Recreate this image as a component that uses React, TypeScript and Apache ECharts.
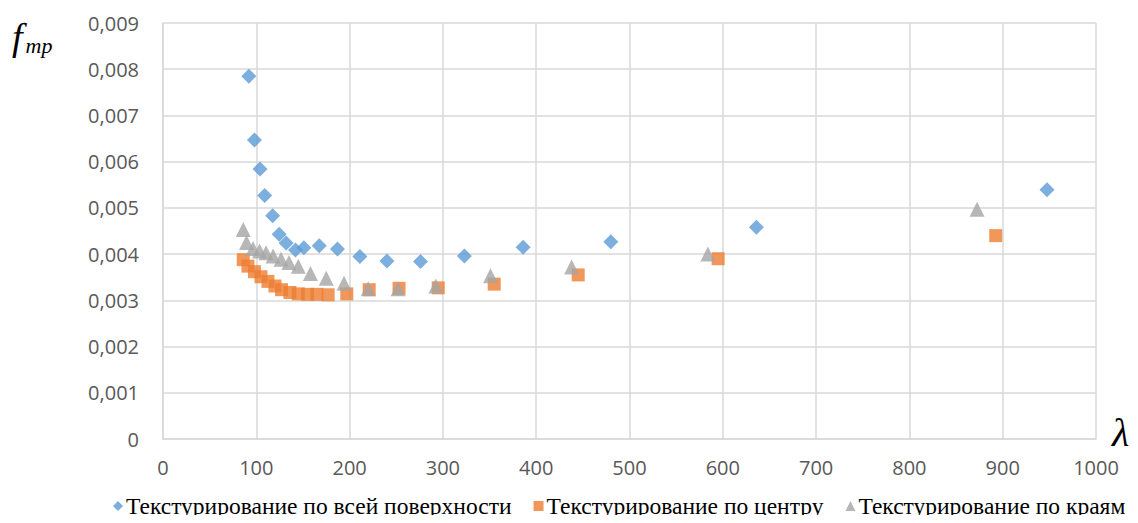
import React, { useEffect, useRef } from "react";
import * as echarts from "echarts";

const seriesNames = [
  "Текстурирование по всей поверхности",
  "Текстурирование по центру",
  "Текстурирование по краям",
];

const blueX = [92, 98, 104, 109, 117.5, 124.5, 132, 142, 151, 167.5, 187, 211, 240, 276, 323, 386, 480, 636, 947.5];
const blueY = [0.00785, 0.00647, 0.00584, 0.00527, 0.00483, 0.00443, 0.00424, 0.00409, 0.00414, 0.00418, 0.00411, 0.00395, 0.00385, 0.00384, 0.00396, 0.00415, 0.00427, 0.00458, 0.00539];

const orangeX = [86, 91, 98, 105, 112.5, 120, 127, 136, 145, 155, 165, 177, 197, 221, 253, 295, 355, 445, 595, 892.5];
const orangeY = [0.00388, 0.00374, 0.00362, 0.00351, 0.00341, 0.00331, 0.00323, 0.00317, 0.00314, 0.00313, 0.00313, 0.00312, 0.00314, 0.00323, 0.00326, 0.00327, 0.00335, 0.00355, 0.0039, 0.0044];

const grayX = [86, 89.5, 96.5, 103.5, 110.5, 118, 126.5, 135, 145, 158, 175, 194, 220, 252, 292.5, 351, 438, 584, 872.5];
const grayY = [0.00453, 0.00425, 0.00412, 0.00407, 0.00403, 0.00396, 0.00389, 0.00382, 0.00374, 0.00358, 0.00348, 0.00337, 0.00325, 0.00325, 0.00331, 0.00353, 0.00372, 0.004, 0.00497];

const colors = ["#5B9BD5", "#ED7D31", "#A5A5A5"];

const zip = (xs: number[], ys: number[]) => xs.map((x, i) => [x, ys[i]]);

export default function App() {
  const ref = useRef<HTMLDivElement>(null);
  useEffect(() => {
    if (!ref.current) return;
    const chart = echarts.init(ref.current, null, { renderer: "svg" });
    const gridColor = "#D9D9D9";
    const labelStyle = {
      color: "#595959",
      fontFamily: "Open Sans",
      fontSize: 20,
    };
    chart.setOption({
      animation: false,
      backgroundColor: "#fff",
      grid: { left: 163, right: 42, top: 23, bottom: 84, containLabel: false },
      xAxis: {
        type: "value",
        min: 0,
        max: 1000,
        interval: 100,
        axisLine: { show: true, lineStyle: { color: gridColor, width: 1.5 } },
        axisTick: { show: false },
        splitLine: { show: true, lineStyle: { color: gridColor, width: 1.5 } },
        axisLabel: { ...labelStyle, margin: 18, formatter: (v: number) => String(v) },
      },
      yAxis: {
        type: "value",
        min: 0,
        max: 0.009,
        interval: 0.001,
        axisLine: { show: true, lineStyle: { color: gridColor, width: 1.5 } },
        axisTick: { show: false },
        splitLine: { show: true, lineStyle: { color: gridColor, width: 1.5 } },
        axisLabel: {
          ...labelStyle,
          margin: 24,
          formatter: (v: number) => (v === 0 ? "0" : v.toFixed(3).replace(".", ",")),
        },
      },
      legend: {
        left: 113,
        top: 494,
        padding: 0,
        itemWidth: 10,
        itemHeight: 10,
        itemGap: 22,
        textStyle: { fontFamily: "Liberation Serif", fontSize: 23.5, lineHeight: 24, color: "#000", padding: [0, 0, 0, -2] },
        data: [
          { name: seriesNames[0], icon: "diamond" },
          { name: seriesNames[1], icon: "rect" },
          { name: seriesNames[2], icon: "triangle" },
        ],
      },
      series: [
        {
          name: seriesNames[0],
          type: "scatter",
          symbol: "diamond",
          symbolSize: 15,
          itemStyle: { color: colors[0] },
          data: zip(blueX, blueY),
        },
        {
          name: seriesNames[1],
          type: "scatter",
          symbol: "rect",
          symbolSize: 13,
          itemStyle: { color: colors[1] },
          data: zip(orangeX, orangeY),
        },
        {
          name: seriesNames[2],
          type: "scatter",
          symbol: "triangle",
          symbolSize: 15,
          itemStyle: { color: colors[2] },
          data: zip(grayX, grayY),
        },
      ],
      graphic: [
        {
          type: "text",
          left: 12,
          top: 18,
          style: {
            text: "{f|f}{s|тр}",
            rich: {
              f: { fontFamily: "Liberation Serif", fontStyle: "italic", fontSize: 38, fill: "#000" },
              s: { fontFamily: "Liberation Serif", fontStyle: "italic", fontSize: 22, fill: "#000", padding: [16, 0, 0, 3] },
            },
          },
        },
        {
          type: "text",
          left: 1112,
          top: 412,
          style: {
            text: "λ",
            fontFamily: "Liberation Serif",
            fontStyle: "italic",
            fontSize: 40,
            fill: "#000",
          },
        },
      ],
    });
    return () => chart.dispose();
  }, []);
  return <div ref={ref} style={{ width: 1138, height: 523, margin: -8 }} />;
}
